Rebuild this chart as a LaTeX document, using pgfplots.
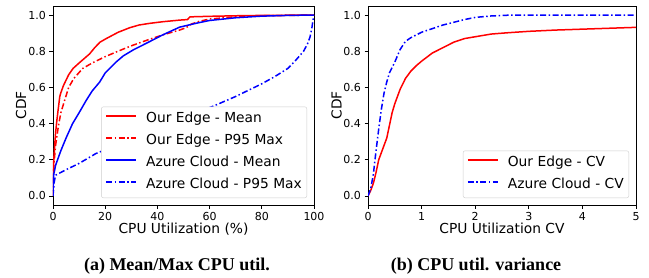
\documentclass[border=0pt]{standalone}
\usepackage{pgfplots}
\pgfplotsset{compat=1.18}
\usepackage{fontspec}
\setmainfont{DejaVu Sans}
\newfontfamily\capfont{Liberation Serif}
\definecolor{mplred}{RGB}{255,0,0}
\definecolor{mplblue}{RGB}{0,0,255}
\pgfplotsset{
  cdfstyle/.style={
    scale only axis, height=199pt,
    ymin=-0.05, ymax=1.05,
    axis line style={line width=0.8pt},
    tick align=outside, xtick pos=bottom, ytick pos=left,
    major tick length=3.5pt,
    every tick/.style={black, line width=0.8pt},
    ytick={0,0.2,0.4,0.6,0.8,1},
    yticklabel style={/pgf/number format/.cd, fixed, fixed zerofill, precision=1},
    /pgf/number format/assume math mode=true,
    tick label style={font=\fontsize{11}{13}\selectfont},
    label style={font=\fontsize{13.8}{16}\selectfont},
    xlabel style={at={(axis description cs:0.5,-0.1407)}, anchor=base},
    legend style={font=\fontsize{13.8}{16}\selectfont, draw=black!20, rounded corners=2pt,
      fill=white,
      at={(1,0)}, anchor=south east, xshift=-7pt, yshift=7pt,
      inner xsep=4pt, inner ysep=4.5pt, row sep=6pt,
      nodes={inner sep=1pt, text height=10pt, text depth=4pt}},
    legend cell align=left,
    legend image code/.code={\draw[##1, line width=1.5pt] plot coordinates {(0pt,3.5pt) (15pt,3.5pt) (30pt,3.5pt)}; \path[draw=none, fill=none] (0pt,0pt) -- (39pt,0pt);},
    every axis plot/.append style={line width=1.5pt},
  },
  dd/.style={dash pattern=on 6pt off 2.5pt on 1.5pt off 2.5pt},
}
\begin{document}
\begin{tikzpicture}
\useasboundingbox (0pt,0pt) rectangle (649pt,277pt);
\begin{axis}[cdfstyle, at={(53pt,72pt)}, anchor=south west, width=261pt,
  xmin=0, xmax=100, xtick={0,20,40,60,80,100},
  xlabel={CPU Utilization (\%)}, ylabel={CDF},
  ylabel style={at={(axis description cs:-0.1226,0.5)}, anchor=center}]
\addplot[color=mplred, solid] coordinates {
(0,0) (0,0.1) (0.3,0.2) (0.6,0.27) (1,0.35) (1.5,0.42) (2,0.48) (2.6,0.55) (3,0.57) (4,0.61) (5,0.64) (6,0.67) (7.7,0.705) (10,0.735) (12,0.76) (14,0.785) (16,0.82) (18,0.85) (20.4,0.87) (25,0.905) (29.4,0.93) (33,0.945) (37,0.954) (42,0.963) (48.5,0.972) (51.5,0.975) (52.5,0.99) (60,0.993) (70,0.996) (80,0.998) (90,0.999) (100,1.0)};
\addlegendentry{Our Edge - Mean}
\addplot[color=mplred, dd] coordinates {
(0,0) (0,0.08) (0.5,0.2) (1,0.28) (2,0.38) (3,0.46) (4.5,0.53) (6,0.6) (8,0.65) (11.4,0.705) (15,0.735) (20,0.77) (24.4,0.797) (30,0.83) (37,0.866) (42,0.89) (48.5,0.917) (51,0.93) (53,0.95) (56,0.965) (60,0.978) (70,0.99) (80,0.996) (100,1.0)};
\addlegendentry{Our Edge - P95 Max}
\addplot[color=mplblue, solid] coordinates {
(0,0.03) (0.3,0.12) (1,0.17) (2,0.21) (3,0.25) (5,0.32) (7.5,0.40) (10,0.46) (12.8,0.53) (15,0.58) (17.9,0.63) (20,0.68) (24.3,0.742) (27,0.775) (30.7,0.807) (37,0.853) (42,0.89) (48.5,0.933) (55,0.955) (60,0.97) (70,0.985) (80,0.994) (90,0.998) (100,1.0)};
\addlegendentry{Azure Cloud - Mean}
\addplot[color=mplblue, dd] coordinates {
(0,0) (0.5,0.08) (1,0.115) (3,0.13) (5,0.145) (10,0.18) (16.5,0.235) (20,0.255) (30,0.31) (40,0.37) (47,0.42) (55,0.46) (62,0.50) (70,0.55) (80,0.62) (85,0.66) (90,0.705) (93,0.75) (96,0.8) (97.5,0.84) (98.5,0.88) (99.2,0.93) (99.6,0.97) (100,1.0)};
\addlegendentry{Azure Cloud - P95 Max}
\end{axis}
\begin{axis}[cdfstyle, at={(368pt,72pt)}, anchor=south west, width=268pt,
  xmin=0, xmax=5, xtick={0,1,2,3,4,5},
  xlabel={CPU Utilization CV}, ylabel={CDF},
  ylabel style={at={(axis description cs:-0.117,0.5)}, anchor=center}]
\addplot[color=mplred, solid] coordinates {
(0,0) (0.05,0.03) (0.1,0.07) (0.15,0.13) (0.2,0.2) (0.25,0.24) (0.3,0.28) (0.35,0.32) (0.4,0.39) (0.45,0.46) (0.5,0.51) (0.6,0.59) (0.7,0.65) (0.8,0.69) (0.9,0.72) (1.0,0.745) (1.2,0.79) (1.4,0.82) (1.6,0.85) (1.8,0.87) (2.0,0.88) (2.3,0.895) (2.6,0.902) (3,0.91) (3.5,0.917) (4,0.922) (4.5,0.927) (5,0.932)};
\addlegendentry{Our Edge - CV}
\addplot[color=mplblue, dd] coordinates {
(0,0) (0.05,0.04) (0.1,0.12) (0.15,0.25) (0.2,0.37) (0.25,0.48) (0.3,0.57) (0.35,0.63) (0.4,0.68) (0.5,0.74) (0.6,0.81) (0.7,0.855) (0.8,0.875) (1.0,0.905) (1.2,0.925) (1.4,0.945) (1.6,0.96) (1.8,0.975) (2.0,0.987) (2.3,0.995) (2.6,0.999) (3,1.0) (5,1.0)};
\addlegendentry{Azure Cloud - CV}
\end{axis}
\node[font=\capfont\bfseries\fontsize{18}{20}\selectfont, anchor=base] at (177pt,7pt) {(a) Mean/Max CPU util.};
\node[font=\capfont\bfseries\fontsize{18}{20}\selectfont, anchor=base] at (476pt,7pt) {(b) CPU util. variance};
\end{tikzpicture}
\end{document}
